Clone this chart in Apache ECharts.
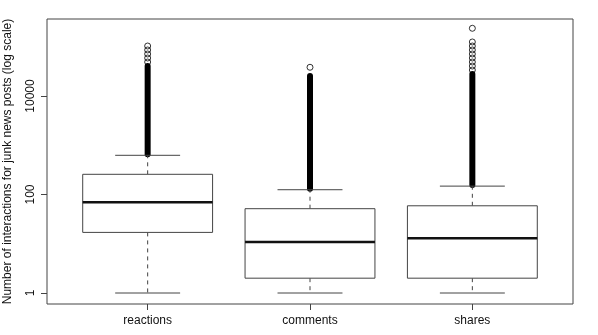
<!DOCTYPE html>
<html>
<head>
<meta charset="utf-8">
<script src="https://cdn.jsdelivr.net/npm/echarts@6/dist/echarts.min.js"></script>
<style>
html,body{margin:0;padding:0;background:#fff;}
#chart{width:598px;height:335px;}
</style>
</head>
<body>
<div id="chart"></div>
<script>
// ---- data (values in interactions, log scale) ----
const categories = ['reactions', 'comments', 'shares'];
const whiskerLow  = [1, 1, 1];
const quartile1   = [17, 2, 2];
const medians     = [69.5, 10.9, 12.9];
const quartile3   = [257, 51.5, 59];
const whiskerHigh = [625, 125, 148];
// outliers: a solid dense run of circles from the upper whisker up to this value
const denseOutlierTop = [40600, 25500, 28000];
// outliers: separately visible circles above the dense run
const reactionsOutliers = [103500, 86000, 71300, 59100, 49000];
const commentsOutliers  = [38300];
const sharesOutliers    = [237000, 125000, 103500, 86000, 71300, 59100, 49000, 40600, 33700];
const yTickValues = [1, 100, 10000];

const outlierLists = [reactionsOutliers, commentsOutliers, sharesOutliers];
const boxData = categories.map((c, i) => [i + 1, whiskerLow[i], quartile1[i], medians[i], quartile3[i], whiskerHigh[i], denseOutlierTop[i]]);
const outlierData = [];
outlierLists.forEach((list, i) => list.forEach(v => outlierData.push([i + 1, v])));

const FONT = '"Liberation Sans", Arial, Helvetica, sans-serif';
const LINE = '#444';

const chart = echarts.init(document.getElementById('chart'), null, {renderer: 'canvas'});

function renderBox(params, api) {
  const x = api.value(0);
  const wl = api.value(1), q1 = api.value(2), md = api.value(3), q3 = api.value(4), wh = api.value(5), dt = api.value(6);
  const cx = api.coord([x, md])[0];
  const bl = api.coord([x - 0.4, md])[0], br = api.coord([x + 0.4, md])[0];
  const cl = api.coord([x - 0.2, md])[0], cr = api.coord([x + 0.2, md])[0];
  const y = v => api.coord([x, v])[1];
  const yWl = y(wl), yQ1 = y(q1), yMd = y(md), yQ3 = y(q3), yWh = y(wh), yDt = y(dt);
  const thin = {stroke: LINE, lineWidth: 1, fill: null};
  const dashed = {stroke: LINE, lineWidth: 1, lineDash: [4, 4], fill: null};
  return {
    type: 'group',
    children: [
      // dense outlier run
      {type: 'line', shape: {x1: cx, y1: yWh - 1, x2: cx, y2: yDt}, style: {stroke: '#000', lineWidth: 6, lineCap: 'round'}},
      {type: 'line', shape: {x1: cx, y1: yQ1, x2: cx, y2: yWl}, style: dashed},
      {type: 'line', shape: {x1: cx, y1: yQ3, x2: cx, y2: yWh}, style: dashed},
      {type: 'line', shape: {x1: cl, y1: yWl, x2: cr, y2: yWl}, style: thin},
      {type: 'line', shape: {x1: cl, y1: yWh, x2: cr, y2: yWh}, style: thin},
      {type: 'rect', shape: {x: bl, y: yQ3, width: br - bl, height: yQ1 - yQ3}, style: {stroke: LINE, lineWidth: 1, fill: '#fff'}},
      {type: 'line', shape: {x1: bl, y1: yMd, x2: br, y2: yMd}, style: {stroke: '#111', lineWidth: 2.5}}
    ]
  };
}

chart.setOption({
  animation: false,
  backgroundColor: '#fff',
  grid: {left: 47, right: 25, top: 19, bottom: 31, containLabel: false, outerBoundsMode: 'none',
    show: true, borderColor: LINE, borderWidth: 1, backgroundColor: 'transparent'},
  xAxis: {
    type: 'value', min: 0.38, max: 3.62,
    axisLine: {show: false},
    splitLine: {show: false},
    axisTick: {show: true, customValues: [1, 2, 3], length: 6, lineStyle: {color: LINE}},
    axisLabel: {customValues: [1, 2, 3], formatter: v => categories[Math.round(v) - 1] || '', margin: 11,
      fontFamily: FONT, fontSize: 12, color: '#111'}
  },
  yAxis: {
    type: 'log', logBase: 10, min: 0.598, max: 365900,
    name: 'Number of interactions for junk news posts (log scale)',
    nameLocation: 'middle', nameRotate: 90, nameGap: 33,
    nameTextStyle: {fontFamily: FONT, fontSize: 12, color: '#111'},
    axisLine: {show: false},
    splitLine: {show: false},
    axisTick: {show: true, customValues: yTickValues, length: 6, lineStyle: {color: LINE}},
    axisLabel: {customValues: yTickValues, rotate: 90, margin: 10, formatter: v => String(Math.round(v)),
      fontFamily: FONT, fontSize: 12, color: '#111'}
  },
  series: [
    {
      type: 'custom',
      renderItem: renderBox,
      data: boxData,
      encode: {x: 0, y: [1, 2, 3, 4, 5, 6]},
      z: 2
    },
    {
      type: 'scatter',
      data: outlierData,
      symbol: 'circle',
      symbolSize: 6,
      itemStyle: {color: 'rgba(0,0,0,0)', borderColor: '#000', borderWidth: 0.8, opacity: 1},
      z: 3
    }
  ]
});
</script>
</body>
</html>
